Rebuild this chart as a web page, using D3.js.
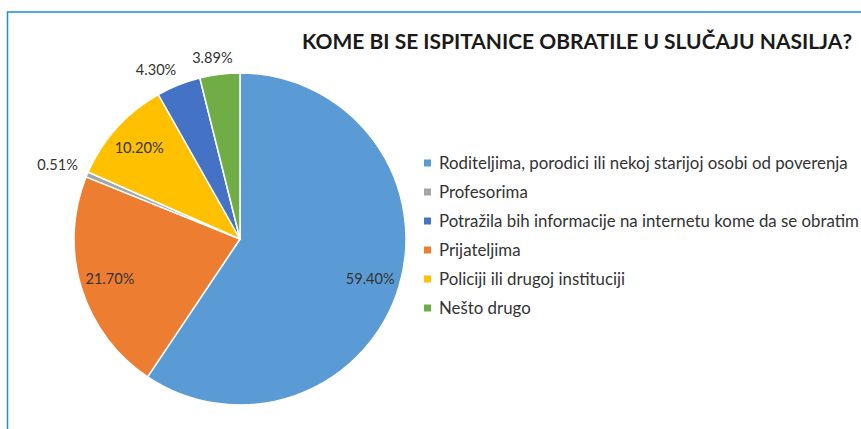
<!DOCTYPE html>
<html>
<head>
<meta charset="utf-8">
<script src="https://cdn.jsdelivr.net/npm/d3@7"></script>
<style>
  html, body { margin: 0; padding: 0; background: #fff; }
  svg { display: block; font-family: Lato, "Open Sans", sans-serif; }
</style>
</head>
<body>
<script>
// slices, clockwise from 12 o'clock
const sliceNames = [
    'Roditeljima, porodici ili nekoj starijoj osobi od poverenja',
    'Prijateljima',
    'Profesorima',
    'Policiji ili drugoj instituciji',
    'Potražila bih informacije na internetu kome da se obratim',
    'Nešto drugo'
];
const sliceValues = [59.40, 21.70, 0.51, 10.20, 4.30, 3.89];
const sliceLabels = ['59.40%', '21.70%', '0.51%', '10.20%', '4.30%', '3.89%'];
const sliceColors = ['#5b9bd5', '#ed7d31', '#a5a5a5', '#ffc000', '#4472c4', '#70ad47'];
// legend order
const legendOrder = [
    'Roditeljima, porodici ili nekoj starijoj osobi od poverenja',
    'Profesorima',
    'Potražila bih informacije na internetu kome da se obratim',
    'Prijateljima',
    'Policiji ili drugoj instituciji',
    'Nešto drugo'
];
const titleText = 'KOME BI SE ISPITANICE OBRATILE U SLUČAJU NASILJA?';

const W = 861, H = 429;
const cx = 240, cy = 239, R = 166;

const svg = d3.select('body').append('svg')
    .attr('width', W)
    .attr('height', H);

// frame
svg.append('rect')
    .attr('x', 7.5).attr('y', 12)
    .attr('width', W + 20).attr('height', H + 20)
    .attr('fill', 'none')
    .attr('stroke', '#1b8fd2')
    .attr('stroke-width', 1.5);

// fits text to a width by adjusting font size
function fitText(sel, target) {
    const fs = parseFloat(sel.attr('font-size'));
    const w = sel.node().getComputedTextLength();
    sel.attr('font-size', (fs * target / w).toFixed(2));
}

// title
const title = svg.append('text')
    .attr('x', 302).attr('y', 49)
    .attr('font-size', 17)
    .attr('font-weight', 'bold')
    .attr('fill', '#1a1a1a')
    .text(titleText);
fitText(title, 550);

// pie
const color = d3.scaleOrdinal().domain(sliceNames).range(sliceColors);
const pie = d3.pie().sort(null).value(d => d.value);
const arcs = pie(sliceNames.map((n, i) => ({ name: n, value: sliceValues[i], label: sliceLabels[i] })));
const arc = d3.arc().innerRadius(0).outerRadius(R);

const g = svg.append('g').attr('transform', `translate(${cx},${cy})`);
g.selectAll('path.slice')
    .data(arcs)
    .enter()
    .append('path')
    .attr('class', 'slice')
    .attr('d', arc)
    .attr('fill', d => color(d.data.name))
    .attr('stroke', '#fff')
    .attr('stroke-width', 1.5);

// data labels
const labelFont = 13;
const labels = g.selectAll('text.lbl')
    .data(arcs)
    .enter()
    .append('text')
    .attr('class', 'lbl')
    .attr('font-size', labelFont)
    .attr('fill', '#333')
    .attr('text-anchor', 'middle')
    .attr('dy', '0.35em')
    .text(d => d.data.label);

// scale label font so "59.40%" is about 49px wide
const l0 = labels.filter((d, i) => i === 0).node().getComputedTextLength();
labels.attr('font-size', (labelFont * 49 / l0).toFixed(2));

labels.each(function(d) {
    const a = (d.startAngle + d.endAngle) / 2;
    const sx = Math.sin(a), sy = -Math.cos(a);
    const inside = (d.endAngle - d.startAngle) > 0.5;
    let x, y;
    if (inside) {
        x = sx * R * 0.82;
        y = sy * R * 0.82;
    } else {
        const hw = this.getComputedTextLength() / 2, hh = 6;
        x = sx * (R + 10) + Math.sign(sx) * hw * Math.min(1, Math.abs(sx) * 2.5);
        y = sy * (R + 10) + Math.sign(sy) * hh;
    }
    d3.select(this).attr('x', x).attr('y', y);
});

// legend
const ly = d3.scalePoint().domain(legendOrder).range([163, 308]);
const leg = svg.append('g');
const rows = leg.selectAll('g')
    .data(legendOrder)
    .enter()
    .append('g')
    .attr('transform', d => `translate(424,${ly(d)})`);
rows.append('rect')
    .attr('x', 0).attr('y', -3.5)
    .attr('width', 7).attr('height', 7)
    .attr('fill', d => color(d));
const legText = rows.append('text')
    .attr('x', 15)
    .attr('dy', '0.35em')
    .attr('font-size', 16)
    .attr('fill', '#333')
    .text(d => d);
const lw = legText.filter((d, i) => i === 0).node().getComputedTextLength();
legText.attr('font-size', (16 * 409 / lw).toFixed(2));
</script>
</body>
</html>
